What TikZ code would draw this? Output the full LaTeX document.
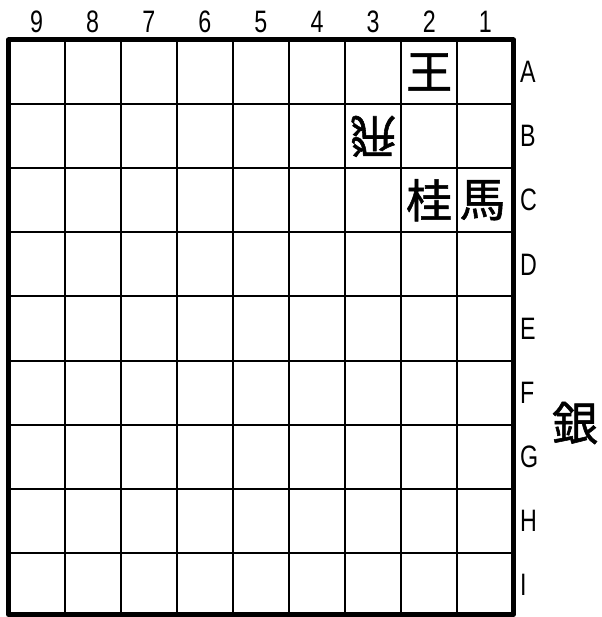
\documentclass[tikz,border=0pt]{standalone}
\usepackage{fontspec}
\setmainfont{Liberation Sans}[FakeStretch=0.75]
\newfontfamily\jpfont{Noto Sans CJK JP}[FakeBold=1.2]
\usetikzlibrary{positioning}
\tikzset
{
    gridline/.style = {line width=2pt},
    boardedge/.style = {line width=5pt, line join=round},
    filelabel/.style = {font=\fontsize{31}{31}\selectfont, anchor=base, inner sep=0pt},
    ranklabel/.style = {font=\fontsize{31}{31}\selectfont, anchor=west, inner sep=0pt},
    piece/.style = {font=\jpfont\fontsize{46}{46}\selectfont, inner sep=0pt},
    enemypiece/.style = {piece, rotate=180}
}
\def\cw{56.1}
\def\rh{64.1}
\def\xo{8.5}
\def\yo{40}
\def\yb{614.5}
\begin{document}
\begin{tikzpicture}[x=1pt, y=-1pt]
    \useasboundingbox (0,0) rectangle (601,617);
    % grid
    \foreach \i in {1,...,8}
    {
        \draw [gridline] ({\xo+\i*\cw},\yo) -- ({\xo+\i*\cw},\yb);
        \draw [gridline] (\xo,{\yo+\i*\rh}) -- ({\xo+9*\cw},{\yo+\i*\rh});
    }
    \draw [boardedge] ({\xo+9*\cw},\yb) -- ({\xo+9*\cw},\yo) -- (\xo,\yo) -- (\xo,\yb) -- cycle;
    % file and rank labels
    \foreach \k in {1,...,9}
    {
        \node [filelabel] (file\k) at ({\xo+(9.5-\k)*\cw},33) {\k};
    }
    \foreach \r [count=\j] in {A,B,C,D,E,F,G,H,I}
    {
        \node [ranklabel] (rank\r) at (520,{\yo+(\j-0.5)*\rh}) {\r};
    }
    % pieces on the board
    \node [piece] (king) at ({\xo+7.5*\cw},{\yo+0.5*\rh}) {王};
    \node [enemypiece] (rook) at ({\xo+6.5*\cw},{\yo+1.5*\rh}) {飛};
    \node [piece] (knight) at ({\xo+7.5*\cw},{\yo+2.5*\rh}) {桂};
    \node [piece] (horse) at ({\xo+8.45*\cw},{\yo+2.5*\rh}) {馬};
    % piece in hand
    \node [piece] (silver) at (575,423) {銀};
\end{tikzpicture}
\end{document}
